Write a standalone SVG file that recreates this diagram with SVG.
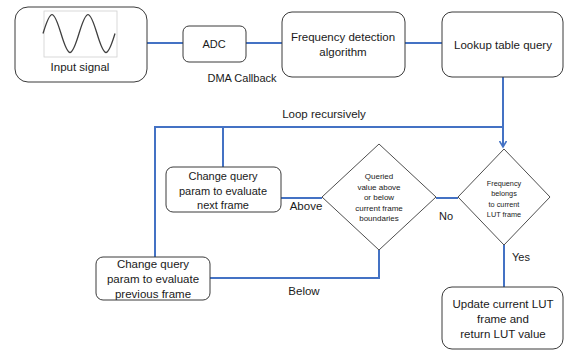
<svg xmlns="http://www.w3.org/2000/svg" width="564" height="350" viewBox="0 0 564 350">
<style>
.box{fill:#fff;stroke:#3a3a3a;stroke-width:1}
.dia{fill:#fff;stroke:#3a3a3a;stroke-width:0.9}
.t{font-family:"Liberation Sans",Arial,sans-serif;font-size:11.5px;fill:#1a1a1a;text-anchor:middle}
.n{font-size:11px}
.s{font-family:"Liberation Sans",Arial,sans-serif;font-size:8px;fill:#1a1a1a;text-anchor:middle}
.s2{font-size:7.3px}
.c{fill:none;stroke:#4472C4;stroke-width:2}
</style>
<defs>
<marker id="arr" markerWidth="8" markerHeight="8" refX="6" refY="4" orient="auto" markerUnits="userSpaceOnUse">
<path d="M0,0.5 L6,4 L0,7.5" fill="none" stroke="#4472C4" stroke-width="1.6"/>
</marker>
</defs>
<rect width="564" height="350" fill="#fff"/>
<g id="connectors">
<line class="c" x1="147" y1="43" x2="183" y2="43"/>
<line class="c" x1="246" y1="43" x2="282" y2="43"/>
<line class="c" x1="405" y1="43" x2="442" y2="43"/>
<path class="c" d="M503,77 V147" marker-end="url(#arr)"/>
<path class="c" d="M503,127 H155 V257"/>
<path class="c" d="M223,127 V167"/>
<line class="c" x1="281" y1="198" x2="322" y2="198"/>
<line class="c" x1="436" y1="198" x2="458" y2="198"/>
<path class="c" d="M379,250 V278 H210"/>
<line class="c" x1="504" y1="245" x2="504" y2="287"/>
<text class="t" x="324" y="118">Loop recursively</text>
<text class="t n" x="242" y="82">DMA Callback</text>
<text class="t" x="306" y="210">Above</text>
<text class="t n" x="446" y="220">No</text>
<text class="t n" x="521" y="261">Yes</text>
<text class="t" x="304" y="295">Below</text>
</g>
<g id="input">
<rect class="box" x="15" y="7" width="132" height="75" rx="13"/>
<rect x="44" y="11" width="73" height="46" fill="#fff" stroke="#d0d0d0" stroke-width="0.8"/>
<path d="M43,33.5 C50.64,8.2 53.36,8.2 61,33.5 C68.64,58.8 71.36,58.8 79,33.5 C86.64,8.2 89.36,8.2 97,33.5 C104.64,58.8 107.36,58.8 115,33.5" fill="none" stroke="#404040" stroke-width="1.3"/>
<text class="t" x="80" y="71">Input signal</text>
</g>
<g id="adc">
<rect class="box" x="183" y="26" width="63" height="36" rx="6"/>
<text class="t n" x="214" y="48">ADC</text>
</g>
<g id="freq">
<rect class="box" x="282" y="12" width="123" height="65" rx="10"/>
<text class="t" x="343" y="41">Frequency detection</text>
<text class="t" x="343" y="56">algorithm</text>
</g>
<g id="lookup">
<rect class="box" x="442" y="12" width="121" height="65" rx="10"/>
<text class="t" x="503" y="49">Lookup table query</text>
</g>
<g id="belongs">
<polygon class="dia" points="504,149 550,197 504,245 458,197"/>
<text class="s s2" x="504" y="186">Frequency</text>
<text class="s s2" x="504" y="196">belongs</text>
<text class="s s2" x="504" y="206.5">to current</text>
<text class="s s2" x="504" y="217">LUT frame</text>
</g>
<g id="queried">
<polygon class="dia" points="379,144 436,197 379,250 322,197"/>
<text class="s" x="379" y="179">Queried</text>
<text class="s" x="379" y="189.5">value above</text>
<text class="s" x="379" y="200">or below</text>
<text class="s" x="379" y="210.5">current frame</text>
<text class="s" x="379" y="221">boundaries</text>
</g>
<g id="next">
<rect class="box" x="166" y="167" width="115" height="45" rx="7"/>
<text class="t n" x="223" y="180">Change query</text>
<text class="t n" x="223" y="195">param to evaluate</text>
<text class="t n" x="223" y="209">next frame</text>
</g>
<g id="previous">
<rect class="box" x="96" y="257" width="114" height="43" rx="7"/>
<text class="t" x="153" y="268">Change query</text>
<text class="t" x="153" y="283">param to evaluate</text>
<text class="t" x="153" y="298">previous frame</text>
</g>
<g id="update">
<rect class="box" x="442" y="287" width="121" height="62" rx="10"/>
<text class="t" x="503" y="308">Update current LUT</text>
<text class="t" x="503" y="323">frame and</text>
<text class="t" x="503" y="338">return LUT value</text>
</g>
</svg>
